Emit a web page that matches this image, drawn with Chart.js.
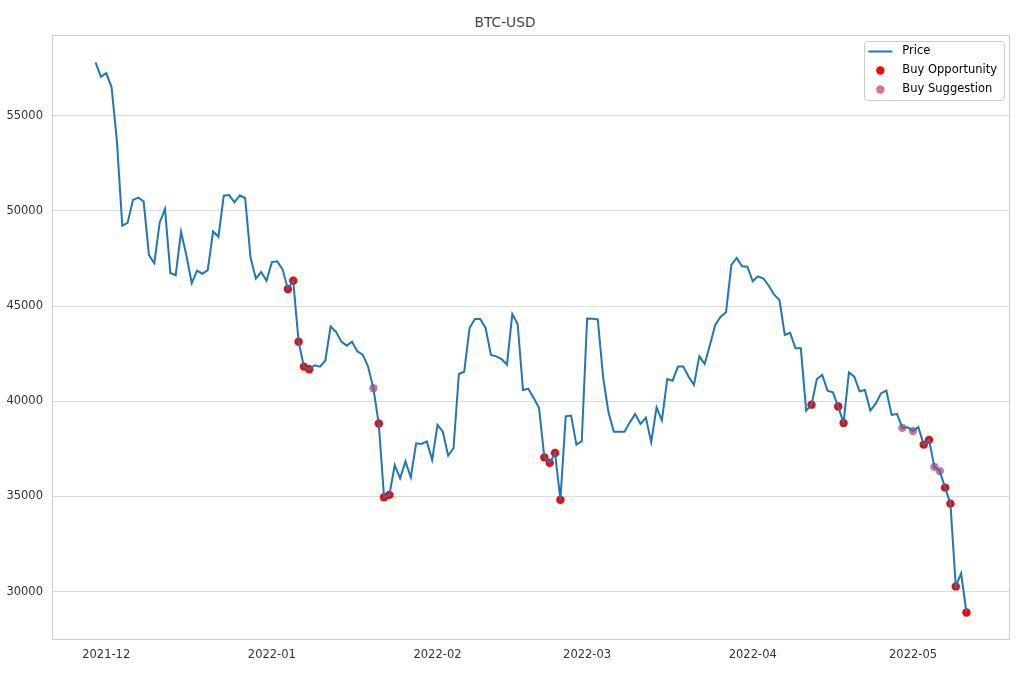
<!DOCTYPE html>
<html>
<head>
<meta charset="utf-8">
<script src="https://cdn.jsdelivr.net/npm/chart.js@4.4.0/dist/chart.umd.min.js"></script>
<style>
  html, body { margin: 0; padding: 0; background: #fff; }
  #wrap { width: 1020px; height: 680px; }
</style>
</head>
<body>
<div id="wrap"><canvas id="chart" width="1020" height="680"></canvas></div>
<script>
// daily closes, first one is startDate
const startDate = '2021-11-29';
const prices = [
  57800, 57050, 57240, 56500, 53650, 49230, 49370, 50570, 50700, 50500,
  47680, 47250, 49380, 50100, 46740, 46620, 48900, 47670, 46210, 46860,
  46700, 46890, 48920, 48640, 50800, 50830, 50450, 50810, 50680, 47560,
  46450, 46790, 46330, 47310, 47350, 46930, 45900, 46330, 43130, 41820,
  41680, 41890, 41820, 42130, 43930, 43650, 43130, 42920, 43130, 42620,
  42450, 41820, 40680, 38830, 34960, 35080, 36650, 35950, 36840, 36000,
  37790, 37760, 37890, 36920, 38760, 38400, 37140, 37530, 41430, 41550,
  43850, 44320, 44320, 43850, 42430, 42360, 42220, 41920, 44580, 44060,
  40590, 40650, 40170, 39650, 37050, 36760, 37280, 34820, 39210, 39250,
  37720, 37900, 44350, 44330, 44300, 41260, 39420, 38400, 38400, 38400,
  38890, 39330, 38810, 39140, 37840, 39680, 39000, 41170, 41080, 41820,
  41820, 41290, 40860, 42360, 41960, 42970, 44020, 44440, 44670, 47160,
  47530, 47090, 47070, 46300, 46560, 46450, 46070, 45600, 45320, 43480,
  43600, 42780, 42780, 39510, 39820, 41170, 41380, 40560, 40470, 39720,
  38860, 41510, 41290, 40520, 40590, 39510, 39860, 40410, 40560, 39280,
  39330, 38600, 38630, 38440, 38640, 37720, 37970, 36550, 36330, 35460,
  34620, 30270, 30960, 28900
];
const opportunityDates = [
  '2022-01-04', '2022-01-05', '2022-01-06', '2022-01-07', '2022-01-08',
  '2022-01-21', '2022-01-22', '2022-01-23',
  '2022-02-21', '2022-02-22', '2022-02-23', '2022-02-24',
  '2022-04-12', '2022-04-17', '2022-04-18',
  '2022-05-03', '2022-05-04', '2022-05-07', '2022-05-08', '2022-05-09', '2022-05-11'
];
const suggestionDates = ['2022-01-20', '2022-04-29', '2022-05-01', '2022-05-05', '2022-05-06'];
const monthLabels = ['2021-12', '2022-01', '2022-02', '2022-03', '2022-04', '2022-05'];
const yTicks = [30000, 35000, 40000, 45000, 50000, 55000];

// 日付 -> startDateからの日数
function dayIndex(s) {
  const p = s.split('-').map(Number);
  const q = startDate.split('-').map(Number);
  return Math.round((Date.UTC(p[0], p[1] - 1, p[2] || 1) - Date.UTC(q[0], q[1] - 1, q[2])) / 86400000);
}

const pricePoints = prices.map((v, i) => ({ x: i, y: v }));
const markPoints = (dates) => dates.map(d => ({ x: dayIndex(d), y: prices[dayIndex(d)] }));
const tickDays = monthLabels.map(dayIndex);

// matplotlib風の余白 (5%)
const n = prices.length - 1;
const yMin = Math.min(...prices), yMax = Math.max(...prices);
const xPad = n * 0.05, yPad = (yMax - yMin) * 0.05;

const textColor = '#333333';
const fontFamily = "'DejaVu Sans', sans-serif";

// 枠線と凡例を描く
const framePlugin = {
  id: 'frame',
  beforeDatasetsDraw(chart) {
    const a = chart.chartArea, c = chart.ctx;
    c.save();
    c.strokeStyle = '#cccccc';
    c.lineWidth = 1;
    c.strokeRect(Math.round(a.left) + 0.5, Math.round(a.top) + 0.5,
      Math.round(a.right - a.left) - 1, Math.round(a.bottom - a.top) - 1);
    c.restore();
  },
  afterDraw(chart) {
    const a = chart.chartArea, c = chart.ctx;
    const items = chart.data.datasets;
    c.save();
    c.font = '11.5px ' + fontFamily;
    const tw = Math.max(...items.map(d => c.measureText(d.label).width));
    const w = 38 + tw + 7, rowH = 19, h = 59;
    const x0 = Math.round(a.right) - 6 - w, y0 = Math.round(a.top) + 6;
    c.beginPath();
    c.roundRect(Math.round(x0) + 0.5, y0 + 0.5, Math.round(w), h, 3);
    c.fillStyle = 'rgba(255,255,255,0.8)';
    c.fill();
    c.strokeStyle = '#cccccc';
    c.lineWidth = 1;
    c.stroke();
    items.forEach((d, i) => {
      const cy = y0 + 10.5 + rowH * i;
      if (d.type === 'line') {
        c.beginPath();
        c.moveTo(x0 + 4, cy);
        c.lineTo(x0 + 28, cy);
        c.strokeStyle = d.borderColor;
        c.lineWidth = 2;
        c.stroke();
      } else {
        c.beginPath();
        c.arc(x0 + 16, cy, 4.2, 0, Math.PI * 2);
        c.fillStyle = d.backgroundColor;
        c.fill();
      }
      c.fillStyle = '#000';
      c.textBaseline = 'middle';
      c.textAlign = 'left';
      c.fillText(d.label, x0 + 38, cy);
    });
    c.restore();
  }
};

new Chart(document.getElementById('chart'), {
  type: 'line',
  data: {
    datasets: [{
      type: 'line',
      label: 'Price',
      data: pricePoints,
      borderColor: '#1f77b4',
      backgroundColor: '#1f77b4',
      borderWidth: 2,
      pointRadius: 0,
      tension: 0,
      order: 0
    }, {
      type: 'scatter',
      label: 'Buy Opportunity',
      data: markPoints(opportunityDates),
      backgroundColor: '#ff0000',
      borderWidth: 0,
      pointRadius: 4.2,
      order: 2
    }, {
      type: 'scatter',
      label: 'Buy Suggestion',
      data: markPoints(suggestionDates),
      backgroundColor: '#db7093',
      borderWidth: 0,
      pointRadius: 4.2,
      order: 1
    }]
  },
  options: {
    responsive: false,
    animation: false,
    devicePixelRatio: 1,
    layout: { padding: { left: 0, right: 10, top: 0, bottom: 0 } },
    scales: {
      x: {
        type: 'linear',
        min: -xPad,
        max: n + xPad,
        grid: { display: false, drawTicks: false },
        border: { display: false },
        afterBuildTicks: (s) => { s.ticks = tickDays.map(v => ({ value: v })); },
        afterFit: (s) => { s.height = 40; },
        ticks: {
          padding: 8,
          color: textColor,
          font: { family: fontFamily, size: 11.5 },
          maxRotation: 0,
          autoSkip: false,
          callback: (v) => monthLabels[tickDays.indexOf(v)]
        }
      },
      y: {
        type: 'linear',
        min: yMin - yPad,
        max: yMax + yPad,
        grid: { color: '#dddddd', lineWidth: 1, drawTicks: false },
        border: { display: false },
        afterBuildTicks: (s) => { s.ticks = yTicks.map(v => ({ value: v })); },
        afterFit: (s) => { s.width = 52; },
        ticks: {
          padding: 9,
          color: textColor,
          font: { family: fontFamily, size: 11.5 },
          callback: (v) => String(v)
        }
      }
    },
    plugins: {
      legend: { display: false },
      tooltip: { enabled: false },
      title: {
        display: true,
        text: 'BTC-USD',
        color: '#444444',
        font: { family: fontFamily, size: 13.8, weight: 'normal' },
        padding: { top: 14.7, bottom: 3.7 }
      }
    }
  },
  plugins: [framePlugin]
});
</script>
</body>
</html>
